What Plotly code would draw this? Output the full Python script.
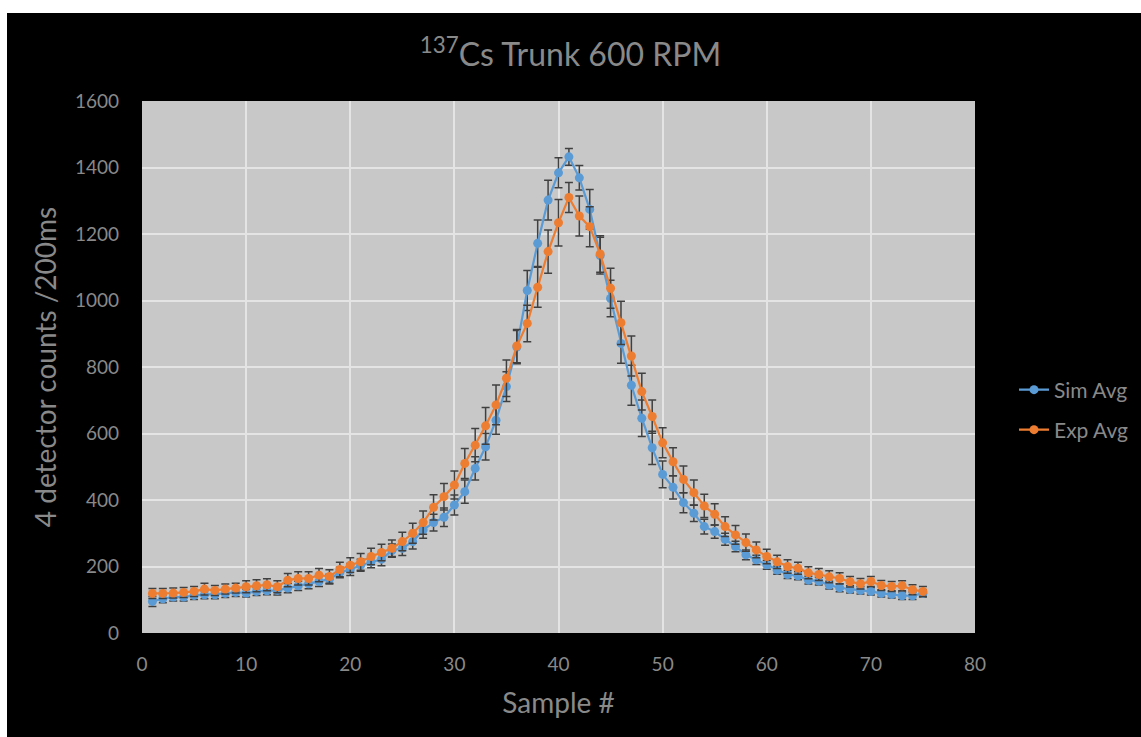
import plotly.graph_objects as go

samples = list(range(1, 76))

sim_avg = [95, 103, 108, 108, 113, 115, 115, 119, 122, 120,
           125, 127, 128, 135, 142, 148, 155, 162, 182, 191,
           204, 214, 222, 248, 255, 275, 310, 332, 348, 385,
           425, 495, 560, 640, 741, 860, 1030, 1172, 1302, 1384,
           1432, 1369, 1274, 1135, 1006, 871, 745, 646, 557, 477,
           438, 392, 360, 320, 305, 282, 260, 235, 220, 205,
           189, 176, 172, 159, 156, 144, 136, 131, 128, 125,
           119, 116, 112, 112, 119]

sim_err = [15, 12, 12, 12, 12, 12, 12, 12, 12, 12,
           12, 12, 14, 14, 14, 15, 15, 15, 16, 18,
           18, 18, 20, 20, 22, 22, 25, 25, 28, 30,
           35, 35, 40, 42, 45, 50, 60, 70, 60, 45,
           25, 37, 60, 55, 55, 60, 60, 55, 50, 40,
           35, 30, 25, 22, 20, 18, 16, 15, 14, 13,
           12, 12, 12, 12, 12, 12, 12, 11, 11, 11,
           11, 11, 11, 11, 11]

exp_avg = [119, 119, 120, 122, 125, 132, 128, 132, 135, 139,
           142, 145, 139, 159, 164, 164, 174, 170, 191, 204,
           214, 230, 242, 255, 275, 300, 332, 378, 410, 445,
           510, 565, 623, 686, 766, 863, 931, 1040, 1147, 1234,
           1310, 1254, 1222, 1140, 1037, 933, 833, 726, 651, 572,
           515, 462, 422, 382, 357, 320, 295, 272, 250, 230,
           214, 200, 195, 181, 176, 169, 164, 154, 148, 155,
           143, 140, 142, 130, 125]

exp_err = [15, 15, 15, 15, 15, 18, 15, 15, 15, 18,
           18, 18, 18, 20, 20, 20, 20, 20, 22, 22,
           25, 25, 25, 25, 28, 30, 35, 38, 40, 42,
           45, 50, 55, 60, 55, 50, 55, 60, 65, 70,
           45, 60, 60, 55, 60, 65, 60, 55, 50, 45,
           42, 40, 38, 35, 32, 30, 28, 26, 24, 22,
           20, 20, 18, 18, 18, 18, 17, 16, 16, 15,
           15, 15, 15, 15, 15]

x_ticks = [0, 10, 20, 30, 40, 50, 60, 70, 80]
y_ticks = [0, 200, 400, 600, 800, 1000, 1200, 1400, 1600]

BLUE = "#5b9bd5"
ORANGE = "#ed7d31"
TXT = "#898989"
FONT = "Lato"

fig = go.Figure()
fig.add_trace(go.Scatter(
    x=samples, y=sim_avg, name="Sim Avg", mode="lines+markers",
    line=dict(color=BLUE, width=2.2), marker=dict(color=BLUE, size=9),
    error_y=dict(type="data", array=sim_err, visible=True,
                 color="#404040", thickness=1.5, width=4),
    legend="legend",
))
fig.add_trace(go.Scatter(
    x=samples, y=exp_avg, name="Exp Avg", mode="lines+markers",
    line=dict(color=ORANGE, width=2.2), marker=dict(color=ORANGE, size=9),
    error_y=dict(type="data", array=exp_err, visible=True,
                 color="#404040", thickness=1.5, width=4),
    legend="legend2",
))

L, R, T, B = 142, 166, 101, 104
W, H = 1141, 737
pw = W - L - R
ph = H - T - B

def px_x(p):
    return (p - L) / pw

def px_y(p):
    return (H - B - p) / ph

shapes = [
    dict(type="rect", xref="paper", yref="paper", layer="below",
         x0=px_x(0), x1=px_x(W), y0=px_y(13), y1=px_y(0),
         fillcolor="white", line=dict(width=0)),
    dict(type="rect", xref="paper", yref="paper", layer="below",
         x0=px_x(0), x1=px_x(7), y0=px_y(H), y1=px_y(0),
         fillcolor="white", line=dict(width=0)),
]

fig.update_layout(
    width=W, height=H,
    margin=dict(l=L, r=R, t=T, b=B, autoexpand=False),
    paper_bgcolor="black",
    plot_bgcolor="#c8c8c8",
    font=dict(family=FONT, color=TXT, size=19),
    title=dict(text="<sup>137</sup>Cs Trunk 600 RPM", x=0.5, xanchor="center",
               y=1 - 55 / H, yanchor="middle",
               font=dict(family=FONT, size=32, color=TXT)),
    xaxis=dict(range=[0, 80], tickvals=x_ticks, showgrid=True,
               gridcolor="#e4e4e4", gridwidth=2, zeroline=False,
               showline=False, ticks="", ticklabelstandoff=18,
               tickfont=dict(size=19, color=TXT),
               title=dict(text="Sample #", standoff=19,
                          font=dict(size=28, color=TXT))),
    yaxis=dict(range=[0, 1600], tickvals=y_ticks, showgrid=True,
               gridcolor="#e4e4e4", gridwidth=2, zeroline=False,
               showline=False, ticks="", ticklabelstandoff=22,
               tickfont=dict(size=19, color=TXT),
               title=dict(text="4 detector counts /200ms", standoff=10,
                          font=dict(size=28, color=TXT))),
    legend=dict(x=px_x(1014), y=px_y(390), xanchor="left", yanchor="middle",
                bgcolor="rgba(0,0,0,0)", font=dict(size=21, color=TXT)),
    legend2=dict(x=px_x(1014), y=px_y(430), xanchor="left", yanchor="middle",
                 bgcolor="rgba(0,0,0,0)", font=dict(size=21, color=TXT)),
    shapes=shapes,
    showlegend=True,
)

fig.write_html("out.html")
